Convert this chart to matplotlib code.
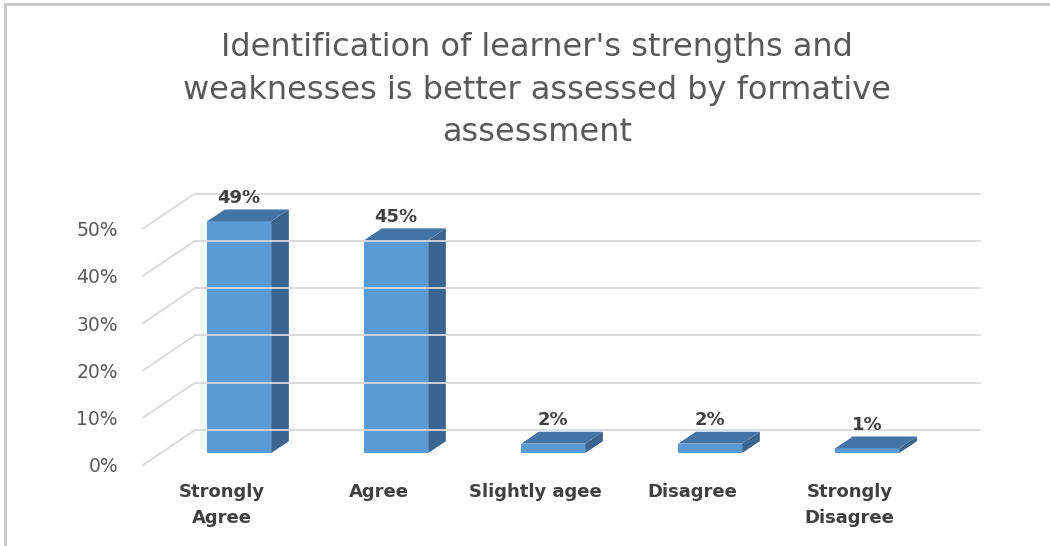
import matplotlib
matplotlib.use('Agg')
import matplotlib.pyplot as plt
from matplotlib.patches import Polygon, Rectangle

# data
categories = ['Strongly\nAgree', 'Agree', 'Slightly agee', 'Disagree', 'Strongly\nDisagree']
values = [49, 45, 2, 2, 1]
yticks = [0, 10, 20, 30, 40, 50]
title = ("Identification of learner's strengths and\n"
         "weaknesses is better assessed by formative\n"
         "assessment")

W, H = 1050, 546
fig = plt.figure(figsize=(W / 100, H / 100), dpi=100)

# front plane of the floor in pixels
px_left, px_right, px_base = 143, 928, 465
px_per_pct = 4.73
ymax = 60
ax = fig.add_axes([px_left / W, (H - px_base) / H,
                   (px_right - px_left) / W, ymax * px_per_pct / H])
ax.set_xlim(-0.5, len(categories) - 0.5)
ax.set_ylim(0, ymax)

# oblique depth offset (full floor depth), in data units
cat_px = (px_right - px_left) / len(categories)
DX = 52 / cat_px
DY = 35 / px_per_pct
z0, z1 = 0.34, 0.68       # bar front / back as fraction of depth
bw = 64 / cat_px          # bar width

grid_c = '#D9D9D9'
for v in yticks:
    ax.plot([-0.5, -0.5 + DX], [v, v + DY], color=grid_c, lw=1.3, clip_on=False)
    ax.plot([-0.5 + DX, len(categories) - 0.5 + DX], [v + DY, v + DY],
            color=grid_c, lw=1.3, clip_on=False)

front_c = '#5B9BD5'
side_c = '#3A6590'
top_c = '#4473A5'
for i, v in enumerate(values):
    fx = i - bw / 2 + z0 * DX
    fy = z0 * DY
    dx = (z1 - z0) * DX
    dy = (z1 - z0) * DY
    front = Rectangle((fx, fy), bw, v, facecolor=front_c, edgecolor='none', clip_on=False)
    side = Polygon([(fx + bw, fy), (fx + bw + dx, fy + dy), (fx + bw + dx, fy + dy + v),
                    (fx + bw, fy + v)], facecolor=side_c, edgecolor='none', clip_on=False)
    top = Polygon([(fx, fy + v), (fx + bw, fy + v), (fx + bw + dx, fy + v + dy),
                   (fx + dx, fy + v + dy)], facecolor=top_c, edgecolor='none', clip_on=False)
    ax.add_patch(front)
    ax.add_patch(side)
    ax.add_patch(top)
    ax.text(fx + bw / 2, fy + v + dy + 0.5, f'{v}%', ha='center', va='bottom',
            fontsize=13, fontweight='bold', color='#404040', family='DejaVu Sans')

ax.set_yticks(yticks)
ax.set_yticklabels([f'{t}%' for t in yticks], family='DejaVu Sans', fontsize=13.5,
                   color='#595959')
ax.set_xticks(range(len(categories)))
ax.set_xticklabels(categories, family='DejaVu Sans', fontsize=13, fontweight='bold',
                   color='#404040', linespacing=1.6)
ax.tick_params(axis='y', length=0, pad=18)
ax.tick_params(axis='x', length=0, pad=13)
for s in ax.spines.values():
    s.set_visible(False)
ax.set_facecolor('none')

fig.text(537 / W, 1 - 90 / H, title, ha='center', va='center', family='DejaVu Sans',
         fontsize=23, color='#595959', linespacing=1.47)

# outer frame
fig.add_artist(plt.Line2D([5 / W, 5 / W], [0, 1 - 4 / H], color='#C8C8C8', lw=2))
fig.add_artist(plt.Line2D([5 / W, 1], [1 - 4 / H, 1 - 4 / H], color='#C8C8C8', lw=2))

fig.savefig('out.png', dpi=100)
